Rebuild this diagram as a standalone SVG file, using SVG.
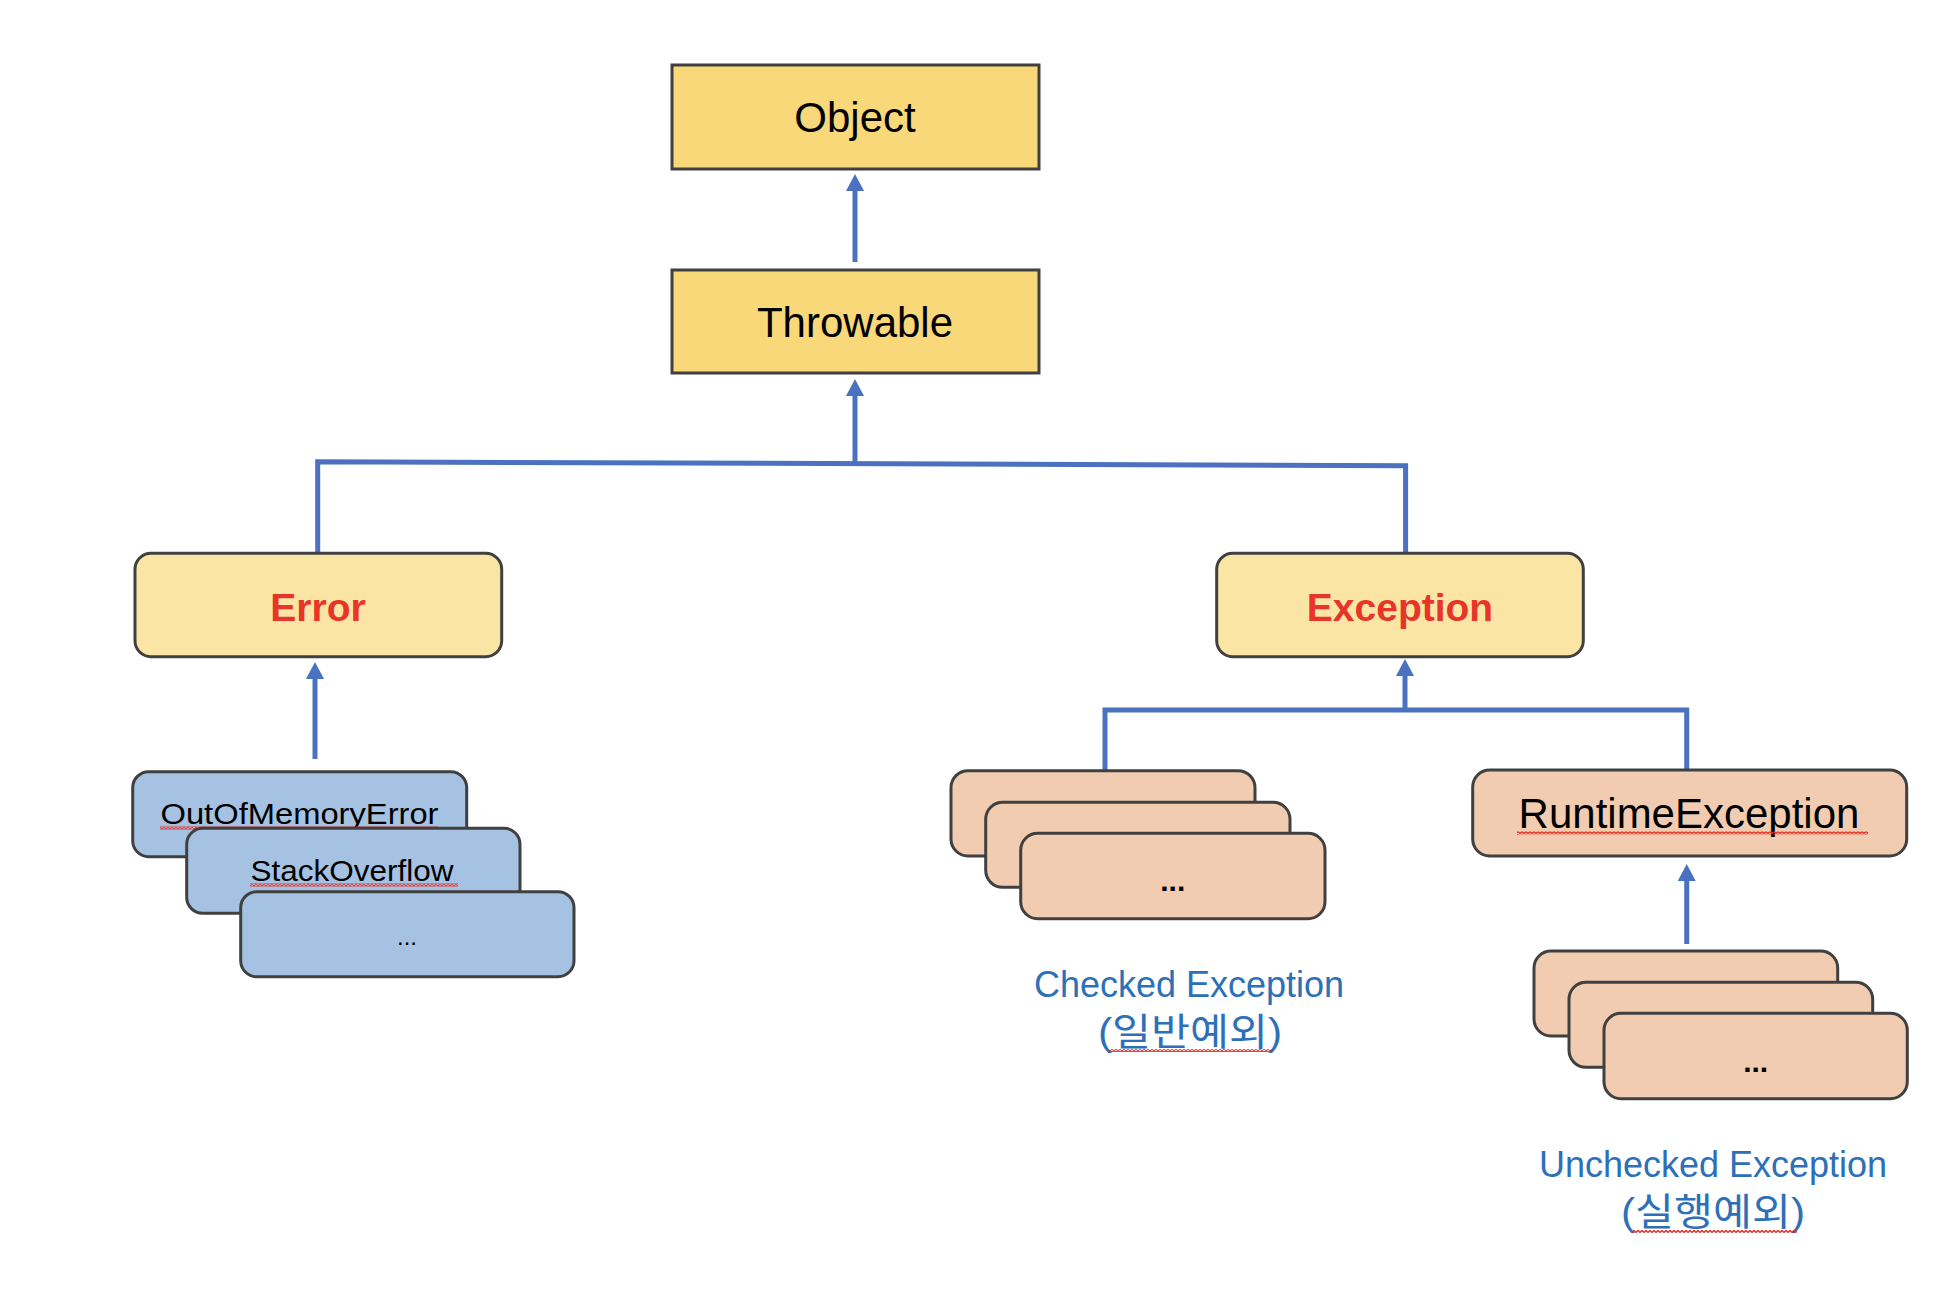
<svg xmlns="http://www.w3.org/2000/svg" width="1954" height="1314" viewBox="0 0 1954 1314">
<style>
  .top{fill:#F8D878;stroke:#404040;stroke-width:3}
  .mid{fill:#FAE5A4;stroke:#404040;stroke-width:3}
  .blue{fill:#A5C2E3;stroke:#404040;stroke-width:3}
  .peach{fill:#F1CCB0;stroke:#404040;stroke-width:3}
  .t{font-family:"Liberation Sans",Arial,sans-serif;text-anchor:middle;fill:#000}
  .big{font-size:42px}
  .red{font-size:39px;font-weight:bold;fill:#E8352A}
  .small{font-size:29px}
  .lbl{font-size:36px;fill:#2E70B8}
  .kr{font-family:"Liberation Sans","Noto Sans CJK KR",sans-serif;font-size:38px;fill:#2E70B8;text-anchor:middle}
  .dots{font-size:30px;font-weight:bold}
  .conn{fill:none;stroke:#4A72C0;stroke-width:5}
</style>
<defs>
  <marker id="arr" viewBox="0 0 17 18" refX="1" refY="9" markerWidth="17" markerHeight="18" markerUnits="userSpaceOnUse" orient="auto">
    <path d="M0,0 L17,9 L0,18 z" fill="#4A72C0"/>
  </marker>
  <pattern id="sq" x="0" y="0" width="4" height="3" patternUnits="userSpaceOnUse">
    <path d="M0,2.6 L2,0.4 L4,2.6" fill="none" stroke="#E8261E" stroke-width="1.4"/>
  </pattern>
</defs>

<g id="connectors">
  <line class="conn" x1="855" y1="262" x2="855" y2="190" marker-end="url(#arr)"/>
  <line class="conn" x1="855" y1="463" x2="855" y2="395" marker-end="url(#arr)"/>
  <path class="conn" d="M317.7,553 V461.7 L1405.6,465.7 V553"/>
  <line class="conn" x1="315" y1="759" x2="315" y2="678" marker-end="url(#arr)"/>
  <path class="conn" d="M1105,770 V710 H1686.7 V770"/>
  <line class="conn" x1="1405" y1="712" x2="1405" y2="675" marker-end="url(#arr)"/>
  <line class="conn" x1="1686.7" y1="944" x2="1686.7" y2="880" marker-end="url(#arr)"/>
</g>

<g id="object">
  <rect class="top" x="672" y="65" width="367" height="104"/>
  <text class="t big" x="855" y="132">Object</text>
</g>
<g id="throwable">
  <rect class="top" x="672" y="270" width="367" height="103"/>
  <text class="t big" x="855" y="337">Throwable</text>
</g>
<g id="error">
  <rect class="mid" x="135" y="553.3" width="366.7" height="103.4" rx="16"/>
  <text class="t red" x="318" y="621">Error</text>
</g>
<g id="exception">
  <rect class="mid" x="1216.7" y="553.3" width="366.6" height="103.4" rx="16"/>
  <text class="t red" x="1400" y="621">Exception</text>
</g>

<g id="error-subclasses">
  <rect class="blue" x="132.7" y="771.7" width="334" height="85" rx="16"/>
  <text class="t small" x="299.5" y="823.5" textLength="278" lengthAdjust="spacingAndGlyphs">OutOfMemoryError</text>
  <rect x="160" y="826.5" width="278" height="3" fill="url(#sq)"/>
  <rect class="blue" x="186.7" y="828.3" width="333.3" height="85" rx="16"/>
  <text class="t small" x="352" y="880.5" textLength="203" lengthAdjust="spacingAndGlyphs">StackOverflow</text>
  <rect x="250" y="883.5" width="208" height="3" fill="url(#sq)"/>
  <rect class="blue" x="240.7" y="891.7" width="333.3" height="85" rx="16"/>
  <text class="t" x="407" y="945" font-size="24">...</text>
</g>

<g id="checked-exceptions">
  <rect class="peach" x="951" y="770.7" width="304" height="85.3" rx="17"/>
  <rect class="peach" x="985.7" y="802.3" width="304.3" height="85" rx="17"/>
  <rect class="peach" x="1020.7" y="833.3" width="304.3" height="85.4" rx="17"/>
  <text class="t dots" x="1172.8" y="891">...</text>
</g>
<g id="checked-label">
  <text class="t lbl" x="1189" y="997">Checked Exception</text>
  <text class="kr" x="1190" y="1045" textLength="184" lengthAdjust="spacingAndGlyphs">(일반예외)</text>
  <rect x="1108" y="1049" width="165" height="3" fill="url(#sq)"/>
</g>

<g id="runtime-exception">
  <rect class="peach" x="1472.7" y="770" width="434" height="86" rx="17"/>
  <text class="t big" x="1689" y="828.3">RuntimeException</text>
  <rect x="1517" y="831.5" width="351" height="3" fill="url(#sq)"/>
</g>

<g id="unchecked-exceptions">
  <rect class="peach" x="1534" y="951" width="303.7" height="85" rx="17"/>
  <rect class="peach" x="1569" y="982.3" width="303.7" height="85" rx="17"/>
  <rect class="peach" x="1604" y="1013.3" width="303.3" height="85.4" rx="17"/>
  <text class="t dots" x="1755.7" y="1072">...</text>
</g>
<g id="unchecked-label">
  <text class="t lbl" x="1713" y="1177">Unchecked Exception</text>
  <text class="kr" x="1713" y="1225" textLength="184" lengthAdjust="spacingAndGlyphs">(실행예외)</text>
  <rect x="1631.7" y="1230" width="165" height="3" fill="url(#sq)"/>
</g>
</svg>
